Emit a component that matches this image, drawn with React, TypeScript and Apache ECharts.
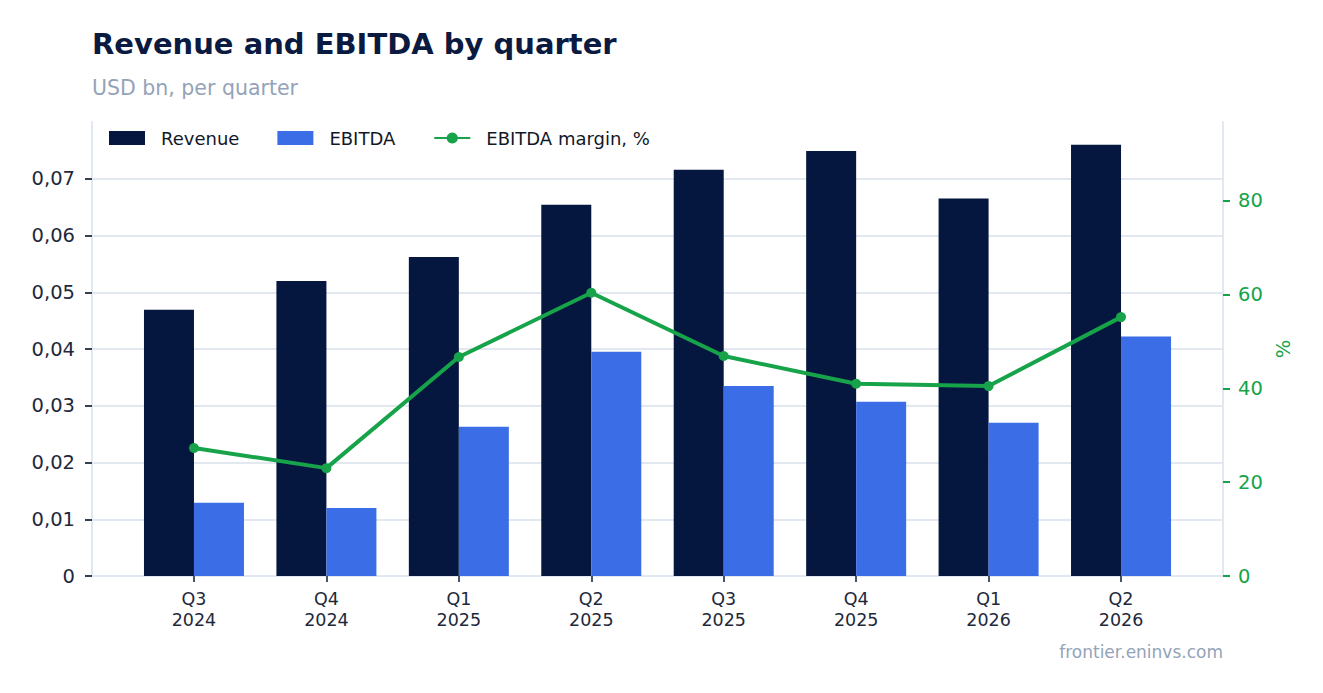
import React, { useEffect, useRef } from "react";
import * as echarts from "echarts";

const categories = ["Q3\n2024", "Q4\n2024", "Q1\n2025", "Q2\n2025", "Q3\n2025", "Q4\n2025", "Q1\n2026", "Q2\n2026"];
const revenue = [0.0469, 0.052, 0.0562, 0.0654, 0.0716, 0.0749, 0.0665, 0.076];
const ebitda = [0.0129, 0.012, 0.0263, 0.0395, 0.0335, 0.0307, 0.027, 0.0422];
const margin = [27.3, 23.0, 46.7, 60.4, 46.9, 41.0, 40.5, 55.2];
const leftTicks = [0, 0.01, 0.02, 0.03, 0.04, 0.05, 0.06, 0.07];
const rightTicks = [0, 20, 40, 60, 80];
const catIndex = categories.map((_, i) => i);

const FONT = "DejaVu Sans";
const NAVY = "#06173f";
const BLUE = "#3b6de6";
const GREEN = "#16a34a";
const LIGHT = "#e2e8f0";
const MUTED = "#94a3b8";

export default function App() {
  const ref = useRef<HTMLDivElement>(null);
  useEffect(() => {
    if (!ref.current) return;
    const chart = echarts.init(ref.current, null, { renderer: "svg" });
    chart.setOption({
      animation: false,
      backgroundColor: "#ffffff",
      textStyle: { fontFamily: FONT },
      title: [
        {
          text: "Revenue and EBITDA by quarter",
          left: 92,
          top: 29,
          padding: 0,
          textStyle: { fontFamily: FONT, fontSize: 29, fontWeight: "bold", color: "#0b1a40" },
        },
        {
          text: "USD bn, per quarter",
          left: 92,
          top: 77,
          padding: 0,
          textStyle: { fontFamily: FONT, fontSize: 20.5, fontWeight: "normal", color: MUTED },
        },
      ],
      legend: {
        left: 109,
        top: 129,
        padding: 0,
        itemWidth: 36,
        itemHeight: 14,
        itemGap: 38,
        textStyle: { fontFamily: FONT, fontSize: 18, color: "#111827", padding: [0, 0, 0, 11] },
        data: [
          { name: "Revenue", icon: "rect" },
          { name: "EBITDA", icon: "rect" },
          { name: "EBITDA margin, %" },
        ],
      },
      grid: { left: 92, right: 100, top: 122, bottom: 117, containLabel: false },
      xAxis: {
        type: "value",
        min: -0.77,
        max: 7.77,
        axisLine: { show: true, onZero: false, lineStyle: { color: LIGHT, width: 2 } },
        axisTick: { show: true, length: 6, customValues: catIndex, lineStyle: { color: "#475569", width: 2 } },
        splitLine: { show: false },
        axisLabel: {
          customValues: catIndex,
          formatter: (v: number) => categories[Math.round(v)] ?? "",
          fontFamily: FONT,
          fontSize: 17.5,
          lineHeight: 21,
          color: "#1e293b",
          margin: 12,
        },
      },
      yAxis: [
        {
          type: "value",
          min: 0,
          max: 0.08,
          position: "left",
          axisLine: { show: true, onZero: false, lineStyle: { color: LIGHT, width: 2 } },
          axisTick: { show: true, length: 7, customValues: leftTicks, lineStyle: { color: "#334155", width: 2 } },
          splitLine: { show: true, lineStyle: { color: LIGHT, width: 2 } },
          axisLabel: {
            customValues: leftTicks,
            formatter: (v: number) => (v === 0 ? "0" : v.toFixed(2).replace(".", ",")),
            fontFamily: FONT,
            fontSize: 19.5,
            color: "#1e293b",
            margin: 17,
          },
        },
        {
          type: "value",
          min: 0,
          max: 96.8,
          position: "right",
          name: "%",
          nameLocation: "middle",
          nameGap: 45,
          nameTextStyle: { fontFamily: FONT, fontSize: 19.5, color: GREEN },
          axisLine: { show: true, onZero: false, lineStyle: { color: LIGHT, width: 2 } },
          axisTick: { show: true, length: 7, customValues: rightTicks, lineStyle: { color: GREEN, width: 2 } },
          splitLine: { show: false },
          axisLabel: {
            customValues: rightTicks,
            fontFamily: FONT,
            fontSize: 19.5,
            color: GREEN,
            margin: 15,
          },
        },
      ],
      series: [
        {
          name: "Revenue",
          type: "bar",
          yAxisIndex: 0,
          barWidth: 50,
          barGap: "0%",
          itemStyle: { color: NAVY },
          data: revenue.map((v, i) => [i, v]),
        },
        {
          name: "EBITDA",
          type: "bar",
          yAxisIndex: 0,
          barWidth: 50,
          barGap: "0%",
          itemStyle: { color: BLUE },
          data: ebitda.map((v, i) => [i, v]),
        },
        {
          name: "EBITDA margin, %",
          type: "line",
          yAxisIndex: 1,
          symbol: "circle",
          symbolSize: 10,
          lineStyle: { color: GREEN, width: 4 },
          itemStyle: { color: GREEN },
          data: margin.map((v, i) => [i, v]),
          z: 5,
        },
      ],
      graphic: [
        {
          type: "text",
          right: 100,
          top: 643,
          style: { text: "frontier.eninvs.com", fontFamily: FONT, fontSize: 17, fill: MUTED },
        },
      ],
    });
    return () => chart.dispose();
  }, []);
  return <div ref={ref} style={{ width: 1323, height: 693, margin: -8 }} />;
}
